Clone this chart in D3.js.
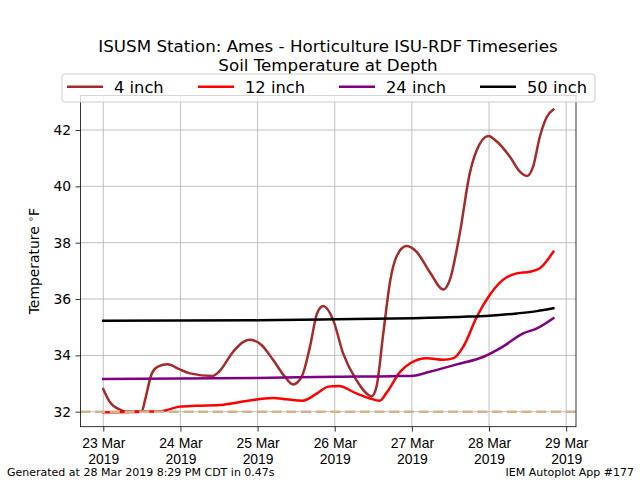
<!DOCTYPE html>
<html><head><meta charset="utf-8">
<script src="https://cdn.jsdelivr.net/npm/d3@7"></script>
<style>body{margin:0;background:#fff}svg{display:block;font-family:"DejaVu Sans",sans-serif}</style>
</head><body>
<script>
// ---- data (hours since 23 Mar 2019 00:00, temperatures in °F) ----
const seriesNames = ["4 inch", "12 inch", "24 inch", "50 inch"];
const seriesColors = ["#a52a2a", "#ff0000", "#800080", "#000000"];

const hours4 = [0, 2, 5, 7, 12, 13, 15.1, 17, 20, 23.8, 27, 34, 36, 40.4, 43.6, 45.6, 49.2, 52.8, 56.5, 59, 61.7, 64.3, 66.5, 68.4, 71.5, 74.6, 78.7, 83.5, 85, 87.1, 89.3, 91.2, 94.3, 97.4, 101.5, 105.8, 107.8, 110.9, 114, 116.2, 119.8, 122.4, 126.5, 129.6, 131.8, 133.7, 135.8, 138, 140];
const temp4  = [32.80, 32.35, 32.08, 32.01, 32.02, 32.42, 33.36, 33.60, 33.68, 33.50, 33.36, 33.27, 33.42, 34.13, 34.48, 34.55, 34.37, 33.84, 33.24, 32.97, 33.24, 34.31, 35.49, 35.75, 35.26, 34.07, 33.13, 32.55, 32.89, 34.78, 36.68, 37.50, 37.88, 37.68, 36.97, 36.34, 36.68, 38.33, 40.46, 41.29, 41.79, 41.59, 41.05, 40.52, 40.37, 40.70, 41.76, 42.47, 42.73];

const hours12 = [0, 12, 18, 23.8, 29, 37.4, 44.6, 52.8, 57, 62, 66.5, 70, 73.2, 78.7, 83, 86, 88, 92.4, 95.5, 100.6, 105.8, 109, 112, 116.2, 120.2, 124.3, 128.6, 132.7, 135.8, 140];
const temp12  = [31.98, 32.00, 32.02, 32.18, 32.21, 32.25, 32.38, 32.49, 32.44, 32.39, 32.65, 32.89, 32.91, 32.65, 32.47, 32.39, 32.65, 33.42, 33.72, 33.90, 33.84, 33.90, 34.31, 35.37, 36.14, 36.68, 36.91, 36.97, 37.09, 37.68];

const hours24 = [0, 48, 73, 90, 96.5, 101.5, 110, 118.3, 124.3, 130.6, 134.9, 140];
const temp24  = [33.16, 33.20, 33.24, 33.26, 33.28, 33.42, 33.68, 33.95, 34.31, 34.78, 34.96, 35.32];

const hours50 = [0, 48, 73, 96.5, 112, 120, 128.6, 134.9, 140];
const temp50  = [35.23, 35.25, 35.28, 35.32, 35.37, 35.41, 35.49, 35.57, 35.67];

const yTicks = [32, 34, 36, 38, 40, 42];
const xTickDays = ["2019-03-23", "2019-03-24", "2019-03-25", "2019-03-26", "2019-03-27", "2019-03-28", "2019-03-29"];
const freezeLine = 32;

const titleLines = ["ISUSM Station: Ames - Horticulture ISU-RDF Timeseries", "Soil Temperature at Depth"];
const footerLeft = "Generated at 28 Mar 2019 8:29 PM CDT in 0.47s";
const footerRight = "IEM Autoplot App #177";

// ---- layout ----
const W = 640, H = 480;
const L = 80.5, R = 576, T = 95.5, B = 426.7;
const t0 = Date.UTC(2019, 2, 23);
const hr = 3600e3;

const x = d3.scaleUtc()
  .domain([new Date(t0 - 7.09 * hr), new Date(t0 + 147.05 * hr)])
  .range([L, R]);
const y = d3.scaleLinear().domain([31.4675, 43.2247]).range([B, T]);

const svg = d3.select("body").append("svg").attr("width", W).attr("height", H);
svg.append("rect").attr("width", W).attr("height", H).attr("fill", "#fff");

const series = [
  {name: seriesNames[0], color: seriesColors[0], h: hours4, v: temp4},
  {name: seriesNames[1], color: seriesColors[1], h: hours12, v: temp12},
  {name: seriesNames[2], color: seriesColors[2], h: hours24, v: temp24},
  {name: seriesNames[3], color: seriesColors[3], h: hours50, v: temp50}
];

const xTicks = xTickDays.map(s => new Date(s + "T00:00:00Z"));

// grid
const g = svg.append("g");
g.selectAll(".gx").data(xTicks).join("line")
  .attr("x1", d => x(d)).attr("x2", d => x(d)).attr("y1", T).attr("y2", B)
  .attr("stroke", "#b0b0b0").attr("stroke-width", 0.8);
g.selectAll(".gy").data(yTicks).join("line")
  .attr("x1", L).attr("x2", R).attr("y1", d => y(d)).attr("y2", d => y(d))
  .attr("stroke", "#b0b0b0").attr("stroke-width", 0.8);

// series lines
svg.append("clipPath").attr("id", "clip").append("rect")
  .attr("x", L).attr("y", T).attr("width", R - L).attr("height", B - T);
const line = d3.line().curve(d3.curveMonotoneX);
const lg = svg.append("g").attr("clip-path", "url(#clip)");
series.forEach(s => {
  const pts = s.h.map((h, i) => [x(new Date(t0 + h * hr)), y(s.v[i])]);
  lg.append("path").attr("d", line(pts)).attr("fill", "none")
    .attr("stroke", s.color).attr("stroke-width", 2.5)
    .attr("stroke-linejoin", "round").attr("stroke-linecap", "square");
});
// freezing line
lg.append("line").attr("x1", L).attr("x2", R).attr("y1", y(freezeLine)).attr("y2", y(freezeLine))
  .attr("stroke", "#d2b48c").attr("stroke-width", 2.6).attr("stroke-dasharray", "10,4.7");

// axes
const xAxis = svg.append("g").attr("transform", `translate(0,${B})`)
  .call(d3.axisBottom(x).tickValues(xTicks).tickSize(4.9).tickPadding(4).tickFormat(""));
xAxis.select(".domain").remove();
xAxis.selectAll(".tick line").attr("stroke", "#000").attr("stroke-width", 0.8);
xAxis.selectAll(".tick").each(function(d) {
  const t = d3.select(this).append("text").attr("fill", "#000").attr("font-size", 13.9)
    .attr("text-anchor", "middle");
  t.append("tspan").attr("x", 0).attr("y", 21).text(d3.utcFormat("%d %b")(d));
  t.append("tspan").attr("x", 0).attr("y", 37.5).text(d3.utcFormat("%Y")(d));
});

const yAxis = svg.append("g").attr("transform", `translate(${L},0)`)
  .call(d3.axisLeft(y).tickValues(yTicks).tickSize(4.9).tickPadding(4.5).tickFormat(d3.format("d")));
yAxis.select(".domain").remove();
yAxis.selectAll(".tick line").attr("stroke", "#000").attr("stroke-width", 0.8);
yAxis.selectAll(".tick text").attr("font-size", 13.9).attr("fill", "#000")
  .attr("font-family", "DejaVu Sans, sans-serif");

// spines
svg.append("rect").attr("x", L).attr("y", T).attr("width", R - L).attr("height", B - T)
  .attr("fill", "none").attr("stroke", "#000").attr("stroke-width", 0.8);

// y label
const yl = svg.append("text").attr("transform", `translate(38.5,${(T + B) / 2}) rotate(-90)`)
  .attr("text-anchor", "middle").attr("font-size", 13.9).attr("fill", "#000");
yl.append("tspan").text("Temperature ");
yl.append("tspan").attr("font-size", 9.5).attr("dy", -5).text("∘");
yl.append("tspan").attr("dy", 5).text("F");

// title
titleLines.forEach((s, i) => {
  svg.append("text").attr("x", 328).attr("y", 52 + i * 18.5).attr("text-anchor", "middle")
    .attr("font-size", 16.7).attr("fill", "#000").text(s);
});

// legend
const leg = svg.append("g");
leg.append("rect").attr("x", 62).attr("y", 74).attr("width", 533).attr("height", 28)
  .attr("rx", 3).attr("fill", "#fff").attr("fill-opacity", 0.8)
  .attr("stroke", "#cccccc").attr("stroke-width", 1);
const legX = [67, 198, 339, 480];
series.forEach((s, i) => {
  leg.append("line").attr("x1", legX[i]).attr("x2", legX[i] + 36).attr("y1", 86.7).attr("y2", 86.7)
    .attr("stroke", s.color).attr("stroke-width", 2.5);
  leg.append("text").attr("x", legX[i] + 47).attr("y", 92.5).attr("font-size", 16.3)
    .attr("fill", "#000").text(s.name);
});

// footer
svg.append("text").attr("x", 7).attr("y", 476).attr("font-size", 11).attr("fill", "#000").text(footerLeft);
svg.append("text").attr("x", 634).attr("y", 476).attr("text-anchor", "end").attr("font-size", 11)
  .attr("fill", "#000").text(footerRight);
</script>
</body></html>
